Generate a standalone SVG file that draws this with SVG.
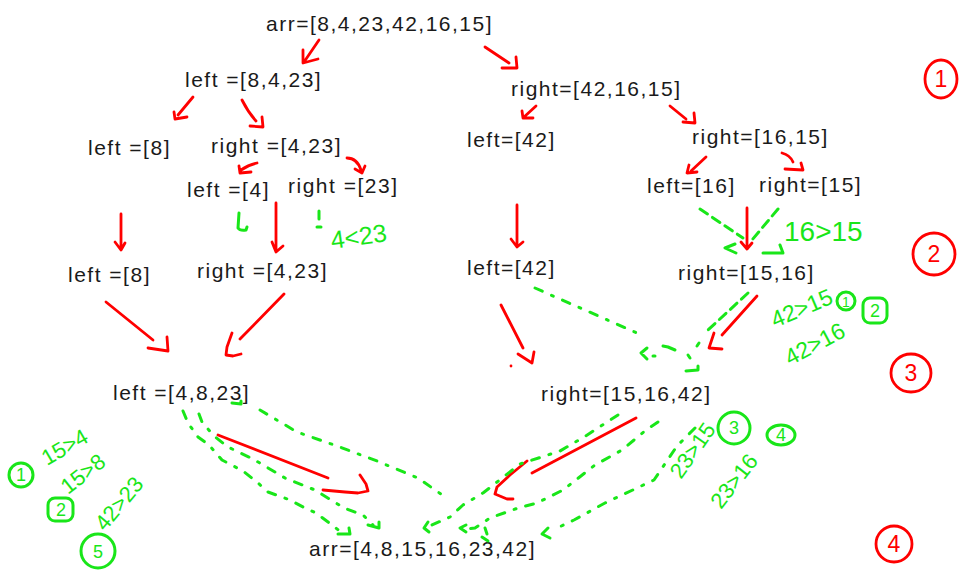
<svg xmlns="http://www.w3.org/2000/svg" width="970" height="576" viewBox="0 0 970 576">
<style>
.t{font-family:"Liberation Sans",Arial,sans-serif;font-size:21px;fill:#1a1a1a;letter-spacing:1.5px}
.r{fill:none;stroke:#ff0000;stroke-width:2.8;stroke-linecap:round;stroke-linejoin:round}
.g{fill:none;stroke:#19e619;stroke-width:3;stroke-linecap:round;stroke-linejoin:round}
.gd{stroke-dasharray:8 10 2 10}
.gs{stroke-dasharray:9 6}
.gt{font-family:"Liberation Sans",Arial,sans-serif;font-size:22px;fill:#19e619}
.rt{font-family:"Liberation Sans",Arial,sans-serif;font-size:23px;fill:#ff0000;text-anchor:middle}
.gc{font-family:"Liberation Sans",Arial,sans-serif;font-size:18px;fill:#19e619;text-anchor:middle}
</style>
<rect width="970" height="576" fill="#ffffff"/>
<g id="nodes">
<g id="n-arr"><text class="t" x="266" y="31">arr=[8,4,23,42,16,15]</text></g>
<g id="n-left1"><text class="t" x="185" y="87">left =[8,4,23]</text></g>
<g id="n-right1"><text class="t" x="511" y="96">right=[42,16,15]</text></g>
<g id="n-left8a"><text class="t" x="88" y="155">left =[8]</text></g>
<g id="n-right423a"><text class="t" x="211" y="153">right =[4,23]</text></g>
<g id="n-left42a"><text class="t" x="467" y="147">left=[42]</text></g>
<g id="n-right1615"><text class="t" x="692" y="144">right=[16,15]</text></g>
<g id="n-left4"><text class="t" x="187" y="197">left =[4]</text></g>
<g id="n-right23"><text class="t" x="288" y="193">right =[23]</text></g>
<g id="n-left16"><text class="t" x="647" y="193">left=[16]</text></g>
<g id="n-right15"><text class="t" x="759" y="192">right=[15]</text></g>
<g id="n-left8b"><text class="t" x="68" y="282">left =[8]</text></g>
<g id="n-right423b"><text class="t" x="197" y="278">right =[4,23]</text></g>
<g id="n-left42b"><text class="t" x="467" y="275">left=[42]</text></g>
<g id="n-right1516"><text class="t" x="678" y="280">right=[15,16]</text></g>
<g id="n-left4823"><text class="t" x="113" y="400">left =[4,8,23]</text></g>
<g id="n-right151642"><text class="t" x="541" y="401">right=[15,16,42]</text></g>
<g id="n-final"><text class="t" x="309" y="556">arr=[4,8,15,16,23,42]</text></g>
</g>
<g id="connectors">
<path class="r" d="M319,40 L304,62 M303,50 L303,63 L318,59"/>
<path class="r" d="M485,47 L509,63 M502,68 L517,68 L516,57"/>
<path class="r" d="M193,97 L178,115 M174,112 L175,119 L187,117"/>
<path class="r" d="M242,100 Q248,112 256,121 M250,126 L263,127 L262,117"/>
<path class="r" d="M536,106 L524,117 M522,111 L523,118 L533,118"/>
<path class="r" d="M670,106 L686,119 M683,122 L695,123 L694,113"/>
<path class="r" d="M257,163 Q248,165 241,170 M239,166 L240,173 L251,172"/>
<path class="r" d="M347,158 Q357,158 361,170 M355,169 L362,173 L365,166"/>
<path class="r" d="M706,157 L691,171 M689,165 L687,173 L697,172"/>
<path class="r" d="M782,153 Q790,155 793,162 M785,169 L803,170 L801,163"/>
<path class="r" d="M121,214 L121,250 M115,242 L121,250 L125,243"/>
<path class="r" d="M276,203 L276,252 M272,242 L276,252 L283,246"/>
<path class="r" d="M517,205 L517,247 M511,239 L517,247 L523,242"/>
<path class="r" d="M747,208 L747,249 M741,242 L747,249 L752,243"/>
<path class="r" d="M106,302 L153,340 M148,348 L168,351 L167,337"/>
<path class="r" d="M284,294 L240,339 M232,333 L227,347 L226,355 L233,356 L241,354"/>
<path class="r" d="M501,305 L523,348 M518,354 L532,363 L534,352"/>
<circle cx="511" cy="366" r="1.4" fill="#ff0000"/>
<path class="r" d="M757,296 L722,335 M714,333 L709,348 L722,349"/>
<path class="r" d="M218,435 L328,478 M323,490 L345,492 L358,493 L368,491 L366,484 L360,475"/>
<path class="r" d="M636,418 L532,473 M527,461 L510,475 L497,487 L495,494 L507,499 L513,499"/>
<path class="g" d="M239,213 L238,228 Q240,231 246,230 L247,227"/>
<path class="g" d="M319,211 L319,219 M317,227 L321,227"/>
<path class="g gs" d="M700,209 L743,238"/>
<path class="g gs" d="M778,209 L752,240"/>
<path class="g" d="M735,244 L725,248 L736,253 M763,253 L783,253 L780,245"/>
<path class="g gs" d="M748,293 L708,330"/>
<path class="g" d="M699,343 L697,346 M688,355 L690,358 M686,371 L698,370 L698,366"/>
<path class="g gd" d="M535,288 L637,333"/>
<path class="g" d="M647,348 L641,353 L647,359 M653,356 L655,356 M663,346 L668,347 L675,350"/>
<path class="g" d="M232,403 L241,404 L241,401"/>
<path class="g gd" d="M183,411 L188,423 L198,437 L209,445 L222,460 L243,471 L258,483 L268,492 L290,500 L305,508 L316,513 L332,525 L342,533"/>
<path class="g" d="M338,534 L350,534 L349,528"/>
<path class="g gd" d="M199,414 L202,422 L214,436 L228,447 L253,459 L285,478 L315,490 L344,508 L363,515 L373,525"/>
<path class="g" d="M368,525 L379,528 L379,522"/>
<path class="g gd" d="M260,410 L297,432 L337,446 L377,461 L418,478 L448,499"/>
<path class="g gd" d="M618,415 L601,426 L584,437 L560,451 L520,464 L483,493 L463,505 L450,517 L432,525"/>
<path class="g" d="M428,522 L424,528 L429,532"/>
<path class="g gd" d="M658,422 L646,430 L622,450 L595,465 L563,490 L537,503 L518,508 L490,518 L475,528 L467,529"/>
<path class="g" d="M466,525 L460,528 L466,532 M485,528 L487,534 M482,537 L488,541"/>
<path class="g gd" d="M695,428 L677,446 L654,480 L605,503 L574,520 L555,529"/>
<path class="g" d="M548,528 L542,534 L550,538"/>
</g>
<g id="annotations">
<text class="gt" x="332" y="249" transform="rotate(-8 332 249)" style="font-size:25px">4&lt;23</text>
<text class="gt" x="784" y="241" style="font-size:28px">16&gt;15</text>
<text class="gt" x="775" y="328" transform="rotate(-23 775 328)" style="font-size:23px">42&gt;15</text>
<circle class="g" cx="846" cy="301" r="9"/>
<text class="gc" x="846" y="307" style="font-size:14px">1</text>
<text class="gt" x="790" y="366" transform="rotate(-28 790 366)" style="font-size:23px">42&gt;16</text>
<rect class="g" x="863" y="298" width="24" height="25" rx="7"/>
<text class="gc" x="875" y="317">2</text>
<text class="gt" x="681" y="480" transform="rotate(-55 681 480)">23&gt;15</text>
<circle class="g" cx="734" cy="428" r="16"/>
<text class="gc" x="734" y="434">3</text>
<text class="gt" x="721" y="510" transform="rotate(-52 721 510)">23&gt;16</text>
<ellipse class="g" cx="781" cy="435" rx="14" ry="10"/>
<text class="gc" x="781" y="441">4</text>
<text class="gt" x="47" y="466" transform="rotate(-30 47 466)">15&gt;4</text>
<text class="gt" x="68" y="495" transform="rotate(-38 68 495)">15&gt;8</text>
<circle class="g" cx="21" cy="475" r="12"/>
<text class="gc" x="21" y="481">1</text>
<rect class="g" x="48" y="498" width="25" height="23" rx="7"/>
<text class="gc" x="61" y="516">2</text>
<text class="gt" x="105" y="532" transform="rotate(-50 105 532)">42&gt;23</text>
<circle class="g" cx="98" cy="551" r="17"/>
<text class="gc" x="98" y="558">5</text>
<ellipse class="r" cx="941" cy="79" rx="16" ry="19"/>
<text class="rt" x="941" y="87">1</text>
<circle class="r" cx="934" cy="254" r="21"/>
<text class="rt" x="934" y="262">2</text>
<ellipse class="r" cx="911" cy="373" rx="20" ry="19"/>
<text class="rt" x="911" y="381">3</text>
<circle class="r" cx="894" cy="544" r="18"/>
<text class="rt" x="894" y="552">4</text>
</g>
</svg>
